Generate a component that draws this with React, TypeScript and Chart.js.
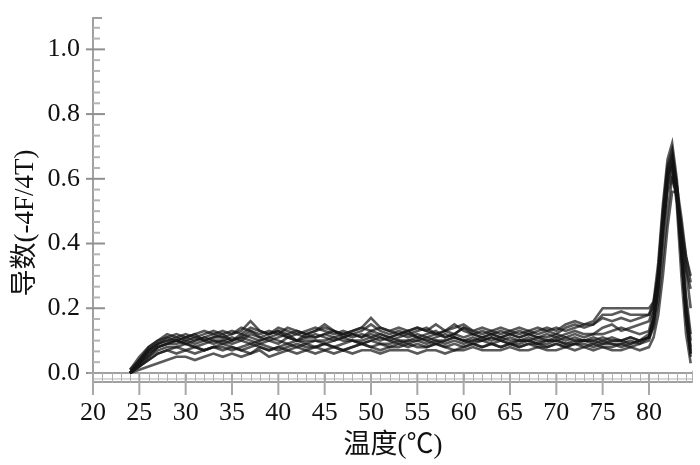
import React, { useEffect, useRef } from "react";
import { Chart, registerables } from "chart.js";

Chart.register(...registerables);

// Temperatures (°C) at which each melt-curve derivative is sampled
const temps = [
  24, 25, 26, 27, 28, 29, 30, 31, 32, 33,
  34, 35, 36, 37, 38, 39, 40, 41, 42, 43,
  44, 45, 46, 47, 48, 49, 50, 51, 52, 53,
  54, 55, 56, 57, 58, 59, 60, 61, 62, 63,
  64, 65, 66, 67, 68, 69, 70, 71, 72, 73,
  74, 75, 76, 77, 78, 79, 80,
  80.5, 81, 81.5, 82, 82.5, 83, 83.5, 84, 84.5,
];

const s1 = [
  0.00, 0.04, 0.07, 0.09, 0.10, 0.10, 0.09, 0.10, 0.11, 0.10,
  0.10, 0.11, 0.10, 0.12, 0.11, 0.10, 0.11, 0.12, 0.10, 0.11,
  0.12, 0.11, 0.10, 0.11, 0.12, 0.11, 0.12, 0.11, 0.10, 0.11,
  0.12, 0.11, 0.10, 0.11, 0.12, 0.11, 0.10, 0.11, 0.10, 0.11,
  0.10, 0.11, 0.10, 0.10, 0.11, 0.10, 0.11, 0.10, 0.11, 0.10,
  0.11, 0.10, 0.11, 0.10, 0.11, 0.10, 0.12,
  0.17, 0.28, 0.46, 0.62, 0.68, 0.58, 0.40, 0.20, 0.08,
];
const s2 = [
  0.00, 0.02, 0.04, 0.06, 0.07, 0.08, 0.07, 0.08, 0.07, 0.08,
  0.09, 0.08, 0.07, 0.08, 0.09, 0.08, 0.07, 0.08, 0.09, 0.08,
  0.08, 0.09, 0.08, 0.07, 0.08, 0.09, 0.08, 0.09, 0.08, 0.08,
  0.09, 0.08, 0.08, 0.09, 0.08, 0.09, 0.08, 0.09, 0.08, 0.09,
  0.08, 0.09, 0.08, 0.09, 0.08, 0.08, 0.09, 0.08, 0.09, 0.08,
  0.09, 0.08, 0.08, 0.09, 0.08, 0.09, 0.10,
  0.15, 0.25, 0.42, 0.58, 0.64, 0.55, 0.36, 0.17, 0.06,
];
const s3 = [
  0.01, 0.05, 0.08, 0.10, 0.12, 0.11, 0.12, 0.11, 0.12, 0.13,
  0.12, 0.13, 0.12, 0.14, 0.13, 0.12, 0.14, 0.13, 0.12, 0.13,
  0.14, 0.13, 0.12, 0.13, 0.12, 0.13, 0.15, 0.13, 0.12, 0.13,
  0.12, 0.13, 0.14, 0.12, 0.13, 0.12, 0.14, 0.13, 0.12, 0.13,
  0.12, 0.13, 0.12, 0.13, 0.12, 0.13, 0.12, 0.14, 0.15, 0.14,
  0.15, 0.17, 0.16, 0.17, 0.16, 0.17, 0.18,
  0.22, 0.34, 0.52, 0.66, 0.71, 0.60, 0.42, 0.24, 0.12,
];
const s4 = [
  0.00, 0.01, 0.02, 0.03, 0.04, 0.05, 0.05, 0.04, 0.05, 0.06,
  0.05, 0.06, 0.05, 0.06, 0.07, 0.05, 0.06, 0.07, 0.06, 0.07,
  0.06, 0.07, 0.06, 0.07, 0.06, 0.07, 0.07, 0.06, 0.07, 0.07,
  0.07, 0.06, 0.07, 0.07, 0.06, 0.07, 0.07, 0.08, 0.07, 0.07,
  0.07, 0.08, 0.07, 0.07, 0.08, 0.07, 0.07, 0.08, 0.07, 0.08,
  0.07, 0.08, 0.07, 0.07, 0.08, 0.07, 0.08,
  0.11, 0.18, 0.30, 0.45, 0.56, 0.56, 0.46, 0.32, 0.20,
];
const s5 = [
  0.00, 0.03, 0.06, 0.08, 0.09, 0.10, 0.11, 0.10, 0.11, 0.12,
  0.11, 0.12, 0.13, 0.16, 0.13, 0.12, 0.13, 0.12, 0.13, 0.12,
  0.13, 0.15, 0.13, 0.12, 0.13, 0.14, 0.17, 0.14, 0.13, 0.12,
  0.13, 0.14, 0.13, 0.12, 0.13, 0.15, 0.13, 0.12, 0.13, 0.12,
  0.13, 0.12, 0.13, 0.12, 0.13, 0.14, 0.13, 0.15, 0.16, 0.15,
  0.16, 0.20, 0.20, 0.20, 0.20, 0.20, 0.20,
  0.22, 0.30, 0.44, 0.58, 0.62, 0.54, 0.42, 0.32, 0.26,
];
const s6 = [
  0.00, 0.03, 0.05, 0.08, 0.09, 0.09, 0.10, 0.09, 0.10, 0.09,
  0.10, 0.09, 0.10, 0.09, 0.10, 0.11, 0.10, 0.09, 0.10, 0.10,
  0.10, 0.10, 0.11, 0.10, 0.10, 0.10, 0.11, 0.10, 0.11, 0.10,
  0.10, 0.10, 0.11, 0.10, 0.10, 0.11, 0.10, 0.10, 0.11, 0.10,
  0.11, 0.10, 0.10, 0.11, 0.10, 0.10, 0.10, 0.11, 0.10, 0.10,
  0.10, 0.11, 0.10, 0.10, 0.11, 0.10, 0.11,
  0.16, 0.27, 0.45, 0.60, 0.66, 0.56, 0.37, 0.18, 0.05,
];
const s7 = [
  0.00, 0.04, 0.08, 0.10, 0.11, 0.10, 0.11, 0.12, 0.10, 0.11,
  0.12, 0.10, 0.11, 0.13, 0.11, 0.12, 0.13, 0.11, 0.10, 0.12,
  0.11, 0.12, 0.13, 0.11, 0.12, 0.11, 0.13, 0.12, 0.11, 0.12,
  0.13, 0.11, 0.12, 0.13, 0.11, 0.12, 0.14, 0.12, 0.11, 0.12,
  0.11, 0.12, 0.11, 0.12, 0.11, 0.12, 0.11, 0.12, 0.13, 0.12,
  0.12, 0.14, 0.15, 0.13, 0.14, 0.15, 0.16,
  0.20, 0.32, 0.50, 0.64, 0.69, 0.58, 0.40, 0.22, 0.10,
];
const s8 = [
  0.00, 0.02, 0.05, 0.07, 0.08, 0.08, 0.09, 0.08, 0.07, 0.08,
  0.08, 0.07, 0.08, 0.09, 0.08, 0.07, 0.08, 0.09, 0.08, 0.09,
  0.08, 0.09, 0.08, 0.09, 0.10, 0.09, 0.10, 0.09, 0.09, 0.10,
  0.09, 0.10, 0.09, 0.10, 0.09, 0.10, 0.09, 0.10, 0.10, 0.09,
  0.10, 0.09, 0.09, 0.10, 0.09, 0.09, 0.10, 0.09, 0.09, 0.10,
  0.09, 0.10, 0.09, 0.09, 0.10, 0.09, 0.11,
  0.14, 0.22, 0.36, 0.50, 0.60, 0.58, 0.48, 0.36, 0.28,
];
const s9 = [
  0.01, 0.04, 0.07, 0.09, 0.11, 0.12, 0.11, 0.12, 0.13, 0.12,
  0.13, 0.12, 0.14, 0.13, 0.12, 0.13, 0.12, 0.14, 0.13, 0.12,
  0.13, 0.14, 0.13, 0.12, 0.13, 0.14, 0.13, 0.14, 0.13, 0.14,
  0.13, 0.14, 0.13, 0.15, 0.13, 0.14, 0.15, 0.13, 0.14, 0.13,
  0.14, 0.13, 0.14, 0.13, 0.14, 0.13, 0.14, 0.13, 0.14, 0.15,
  0.15, 0.18, 0.18, 0.19, 0.18, 0.18, 0.18,
  0.21, 0.30, 0.44, 0.56, 0.60, 0.55, 0.45, 0.36, 0.30,
];
const s10 = [
  0.00, 0.02, 0.04, 0.06, 0.07, 0.06, 0.07, 0.06, 0.07, 0.08,
  0.07, 0.08, 0.07, 0.06, 0.08, 0.07, 0.08, 0.07, 0.08, 0.07,
  0.08, 0.07, 0.08, 0.07, 0.08, 0.09, 0.08, 0.07, 0.08, 0.09,
  0.08, 0.09, 0.08, 0.09, 0.08, 0.07, 0.08, 0.09, 0.08, 0.09,
  0.08, 0.09, 0.08, 0.09, 0.09, 0.08, 0.09, 0.08, 0.09, 0.09,
  0.08, 0.09, 0.09, 0.08, 0.09, 0.10, 0.11,
  0.16, 0.27, 0.46, 0.61, 0.65, 0.52, 0.30, 0.12, 0.03,
];
const s11 = [
  0.00, 0.03, 0.07, 0.09, 0.10, 0.11, 0.10, 0.11, 0.10, 0.11,
  0.11, 0.10, 0.12, 0.11, 0.10, 0.11, 0.12, 0.11, 0.12, 0.11,
  0.11, 0.12, 0.11, 0.12, 0.11, 0.12, 0.11, 0.12, 0.11, 0.12,
  0.11, 0.12, 0.11, 0.12, 0.11, 0.12, 0.11, 0.12, 0.11, 0.12,
  0.11, 0.12, 0.11, 0.12, 0.11, 0.11, 0.12, 0.11, 0.12, 0.11,
  0.12, 0.12, 0.13, 0.14, 0.13, 0.12, 0.13,
  0.19, 0.31, 0.49, 0.63, 0.67, 0.57, 0.38, 0.19, 0.07,
];
const s12 = [
  0.00, 0.03, 0.06, 0.08, 0.09, 0.10, 0.09, 0.08, 0.09, 0.10,
  0.09, 0.10, 0.11, 0.10, 0.09, 0.10, 0.09, 0.11, 0.10, 0.09,
  0.10, 0.09, 0.10, 0.11, 0.10, 0.09, 0.10, 0.11, 0.10, 0.09,
  0.10, 0.11, 0.10, 0.09, 0.10, 0.11, 0.10, 0.09, 0.10, 0.11,
  0.10, 0.09, 0.10, 0.10, 0.09, 0.10, 0.10, 0.09, 0.10, 0.10,
  0.10, 0.09, 0.10, 0.10, 0.09, 0.10, 0.11,
  0.17, 0.29, 0.47, 0.61, 0.64, 0.54, 0.36, 0.17, 0.06,
];

const seriesList = [s1, s2, s3, s4, s5, s6, s7, s8, s9, s10, s11, s12];

const xTickValues = [20, 25, 30, 35, 40, 45, 50, 55, 60, 65, 70, 75, 80];
const yTickValues = [0, 0.2, 0.4, 0.6, 0.8, 1.0];

const xTitle = "温度(℃)";
const yTitle = "导数(-4F/4T)";

const X_MIN = 20;
const X_MAX = 84.75;
const Y_MIN = -0.031;
const Y_MAX = 1.1;

const SERIF = '"Liberation Serif", "Times New Roman", "Noto Sans CJK SC", serif';

const axisDeco = {
  id: "axisDeco",
  beforeDatasetsDraw(chart: any) {
    const { ctx, chartArea: a, scales } = chart;
    const x = scales.x;
    const y = scales.y;
    const seg = (x1: number, y1: number, x2: number, y2: number) => {
      ctx.beginPath();
      ctx.moveTo(x1, y1);
      ctx.lineTo(x2, y2);
      ctx.stroke();
    };
    ctx.save();
    ctx.strokeStyle = "#a0a0a0";
    ctx.lineWidth = 2;
    // y axis line + top cap
    seg(a.left, a.top, a.left, a.bottom);
    seg(a.left, a.top + 1, a.left + 9, a.top + 1);
    // minor y ticks
    ctx.strokeStyle = "#b4b4b4";
    const minorStep = 0.2 / 6;
    for (let k = 1; k * minorStep < Y_MAX - 0.01; k++) {
      if (k % 6 === 0) continue;
      const py = y.getPixelForValue(k * minorStep);
      seg(a.left, py, a.left + 7, py);
    }
    // major y ticks
    ctx.strokeStyle = "#909090";
    for (const v of yTickValues) {
      const py = y.getPixelForValue(v);
      seg(a.left - 7, py, a.left + 12, py);
    }
    // bottom band
    const y0 = y.getPixelForValue(0);
    ctx.strokeStyle = "#a0a0a0";
    seg(a.left - 5, y0, a.right, y0);
    seg(a.left, a.bottom - 1, a.right, a.bottom - 1);
    ctx.lineWidth = 1;
    ctx.strokeStyle = "#b0b0b0";
    seg(a.left, (y0 + a.bottom) / 2 + 1, a.right, (y0 + a.bottom) / 2 + 1);
    for (let t = X_MIN + 1; t <= X_MAX; t++) {
      const px = Math.round(x.getPixelForValue(t)) + 0.5;
      seg(px, y0, px, a.bottom);
    }
    seg(a.right - 0.5, y0 - 2, a.right - 0.5, a.bottom);
    // major x ticks
    ctx.lineWidth = 2;
    ctx.strokeStyle = "#a8a8a8";
    for (const v of xTickValues) {
      const px = x.getPixelForValue(v);
      seg(px, y0, px, a.bottom + 12);
    }
    ctx.restore();
  },
  afterDraw(chart: any) {
    const { ctx } = chart;
    ctx.save();
    ctx.translate(26, 223);
    ctx.rotate(-Math.PI / 2);
    ctx.font = `27px ${SERIF}`;
    ctx.fillStyle = "#111";
    ctx.textAlign = "center";
    ctx.textBaseline = "middle";
    ctx.fillText(yTitle, 0, 0);
    ctx.restore();
  },
};

export default function App() {
  const ref = useRef<HTMLCanvasElement | null>(null);

  useEffect(() => {
    if (!ref.current) return;
    const datasets = seriesList.map((s, i) => ({
      label: `S${i + 1}`,
      data: temps.map((t, j) => ({ x: t, y: s[j] })),
      borderColor: "rgba(20,20,20,0.7)",
      borderWidth: 2.6,
      pointRadius: 0,
      fill: false,
      tension: 0,
    }));
    const chart = new Chart(ref.current, {
      type: "line",
      data: { datasets },
      options: {
        animation: false,
        responsive: false,
        maintainAspectRatio: false,
        layout: { padding: { top: 17, right: 7, bottom: 0, left: 0 } },
        plugins: {
          legend: { display: false },
          tooltip: { enabled: false },
        },
        scales: {
          x: {
            type: "linear",
            min: X_MIN,
            max: X_MAX,
            grid: { display: false, drawTicks: false },
            border: { display: false },
            afterBuildTicks: (scale: any) => {
              scale.ticks = xTickValues.map((v) => ({ value: v }));
            },
            afterFit: (scale: any) => {
              scale.height = 82;
              scale.paddingLeft = 0;
              scale.paddingRight = 0;
            },
            ticks: {
              autoSkip: false,
              maxRotation: 0,
              padding: 15,
              color: "#111",
              font: { family: SERIF, size: 26 },
              callback: (v: any) => String(v),
            },
            title: {
              display: true,
              text: xTitle,
              color: "#111",
              font: { family: SERIF, size: 27 },
              padding: { top: 0, bottom: 3 },
            },
          },
          y: {
            type: "linear",
            min: Y_MIN,
            max: Y_MAX,
            grid: { display: false, drawTicks: false },
            border: { display: false },
            afterBuildTicks: (scale: any) => {
              scale.ticks = yTickValues.map((v) => ({ value: v }));
            },
            afterFit: (scale: any) => {
              scale.width = 93;
              scale.paddingTop = 0;
              scale.paddingBottom = 0;
            },
            ticks: {
              autoSkip: false,
              padding: 13,
              color: "#111",
              font: { family: SERIF, size: 26 },
              callback: (v: any) => Number(v).toFixed(1),
            },
          },
        },
      },
      plugins: [axisDeco],
    });
    return () => chart.destroy();
  }, []);

  return (
    <div style={{ position: "fixed", left: 0, top: 0, width: 700, height: 465, background: "#fff" }}>
      <canvas ref={ref} width={700} height={465} />
    </div>
  );
}
